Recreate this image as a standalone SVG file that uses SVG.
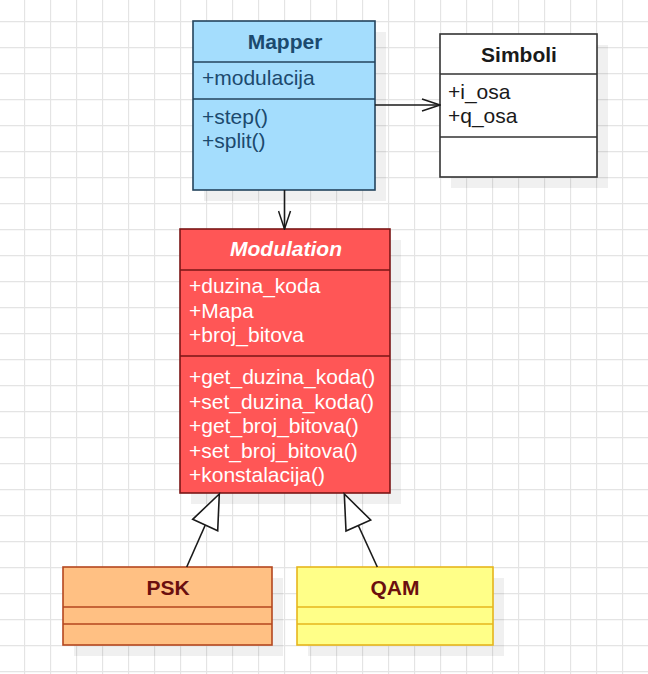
<svg xmlns="http://www.w3.org/2000/svg" width="648" height="674" viewBox="0 0 648 674">
<defs>
<pattern id="grid" x="-2" y="21" width="26" height="26" patternUnits="userSpaceOnUse">
<path d="M0 0.5 H26 M0.5 0 V26" fill="none" stroke="#e4e4e4" stroke-width="1.3"/>
</pattern>
<marker id="open" viewBox="0 0 20 14" refX="19" refY="7" markerWidth="20" markerHeight="14" markerUnits="userSpaceOnUse" orient="auto">
<path d="M1 1 L19 7 L1 13" fill="none" stroke="#1a1a1a" stroke-width="1.5"/>
</marker>
</defs>
<style>
text{font-family:"Liberation Sans",Arial,sans-serif;font-size:21px}
.h{font-weight:bold;text-anchor:middle}
.sh{fill:#000;opacity:0.06}
.c{stroke:#1a1a1a;stroke-width:1.6;fill:none}
.tri{fill:#fff;stroke:#1a1a1a;stroke-width:1.6}
</style>
<rect width="648" height="674" fill="#fff"/>
<rect width="648" height="674" fill="url(#grid)"/>

<g id="Mapper">
<rect class="sh" x="204" y="32" width="182" height="169"/>
<rect x="193" y="21" width="182" height="169" fill="#a4ddfd" stroke="#23445d" stroke-width="1.6"/>
<path d="M193 62 H375 M193 99 H375" stroke="#23445d" stroke-width="1.6"/>
<g fill="#1c4a6e">
<text class="h" x="285" y="49">Mapper</text>
<text x="202" y="85">+modulacija</text>
<text x="202" y="124">+step()</text>
<text x="202" y="148">+split()</text>
</g>
</g>

<g id="Simboli">
<rect class="sh" x="451" y="45" width="157" height="143"/>
<rect x="440" y="34" width="157" height="143" fill="#fff" stroke="#333" stroke-width="1.6"/>
<path d="M440 74 H597 M440 137 H597" stroke="#333" stroke-width="1.6"/>
<g fill="#1a1a1a">
<text class="h" x="519" y="62">Simboli</text>
<text x="448" y="99">+i_osa</text>
<text x="448" y="123">+q_osa</text>
</g>
</g>

<g id="Modulation">
<rect class="sh" x="191" y="240" width="210" height="264"/>
<rect x="180" y="229" width="210" height="264" fill="#ff5656" stroke="#7a1616" stroke-width="1.6"/>
<path d="M180 270 H390 M180 356 H390" stroke="#7a1616" stroke-width="1.6"/>
<g fill="#fff">
<text class="h" x="286" y="256" font-style="italic">Modulation</text>
<text x="189" y="293">+duzina_koda</text>
<text x="189" y="318">+Mapa</text>
<text x="189" y="342">+broj_bitova</text>
<text x="189" y="384">+get_duzina_koda()</text>
<text x="189" y="409">+set_duzina_koda()</text>
<text x="189" y="433">+get_broj_bitova()</text>
<text x="189" y="458">+set_broj_bitova()</text>
<text x="189" y="482">+konstalacija()</text>
</g>
</g>

<g id="PSK">
<rect class="sh" x="74" y="578" width="209" height="78"/>
<rect x="63" y="567" width="209" height="78" fill="#ffc083" stroke="#b5461f" stroke-width="1.6"/>
<path d="M63 607 H272 M63 624 H272" stroke="#b5461f" stroke-width="1.6"/>
<text class="h" x="168" y="595" fill="#6b0f0f">PSK</text>
</g>

<g id="QAM">
<rect class="sh" x="308" y="578" width="196" height="78"/>
<rect x="297" y="567" width="196" height="78" fill="#ffff88" stroke="#e6b61c" stroke-width="1.6"/>
<path d="M297 607 H493 M297 624 H493" stroke="#e6b61c" stroke-width="1.6"/>
<text class="h" x="395" y="595" fill="#6b0f0f">QAM</text>
</g>

<g id="connectors">
<line class="c" x1="375" y1="105" x2="440" y2="105" marker-end="url(#open)"/>
<line class="c" x1="284.5" y1="190" x2="284.5" y2="229" marker-end="url(#open)"/>
<line class="c" x1="186.7" y1="567" x2="205.3" y2="525"/>
<polygon class="tri" points="219.3,494 192.7,519.3 217.7,530.7"/>
<line class="c" x1="377.3" y1="567" x2="358.3" y2="525.5"/>
<polygon class="tri" points="344.3,494 346,531 370.7,520"/>
</g>
</svg>
